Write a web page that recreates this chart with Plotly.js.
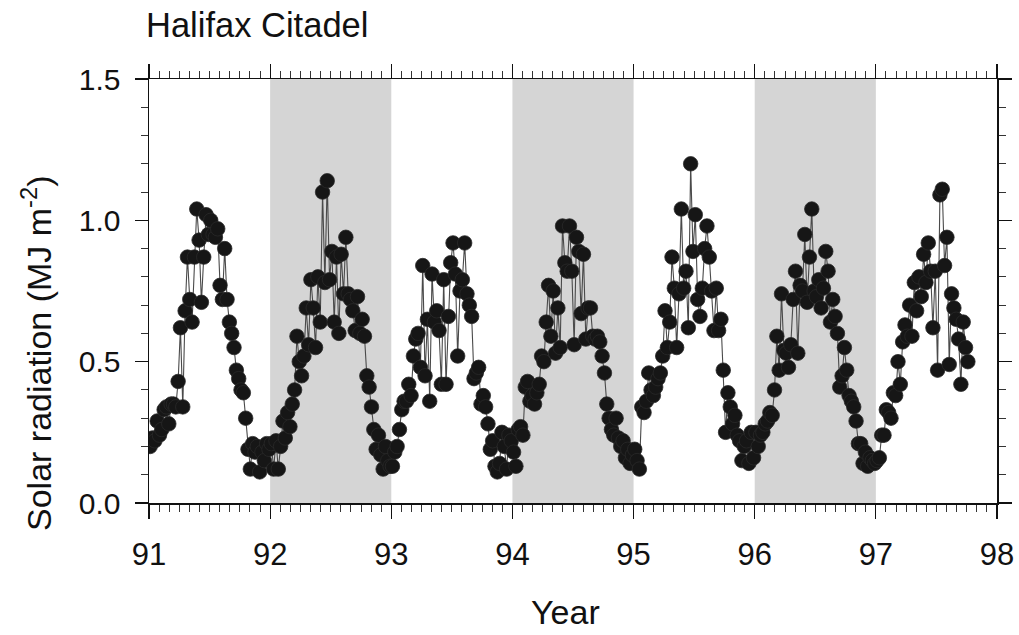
<!DOCTYPE html>
<html>
<head>
<meta charset="utf-8">
<script src="https://cdn.plot.ly/plotly-3.0.1.min.js"></script>
<style>html,body{margin:0;padding:0;background:#fff}#chart{width:1019px;height:635px}</style>
</head>
<body>
<div id="chart"></div>
<script>
// Weekly mean solar radiation (MJ m^-2), one array per year
const years = [91, 92, 93, 94, 95, 96, 97];
const weeksPerYear = 52;
const rad91 = [0.20,0.23,0.22,0.29,0.24,0.26,0.33,0.34,0.28,0.35,0.35,0.34,0.43,0.62,0.34,0.68,0.87,0.72,0.64,0.87,1.04,0.93,0.71,0.87,1.02,0.95,1.00,0.95,0.94,0.97,0.77,0.72,0.90,0.72,0.64,0.60,0.55,0.47,0.44,0.40,0.39,0.30,0.19,0.12,0.21,0.18,0.20,0.11,0.18,0.15,0.21,0.19];
const rad92 = [0.21,0.12,0.22,0.12,0.20,0.29,0.23,0.32,0.27,0.35,0.40,0.59,0.50,0.45,0.52,0.69,0.56,0.79,0.69,0.55,0.80,0.64,1.10,0.78,1.14,0.79,0.89,0.64,0.87,0.60,0.88,0.74,0.94,0.74,0.72,0.68,0.61,0.73,0.60,0.65,0.59,0.45,0.41,0.34,0.26,0.19,0.24,0.17,0.12,0.20,0.15,0.13];
const rad93 = [0.13,0.18,0.20,0.26,0.33,0.36,0.36,0.42,0.38,0.52,0.58,0.60,0.48,0.84,0.45,0.65,0.36,0.81,0.64,0.68,0.61,0.42,0.79,0.42,0.66,0.85,0.92,0.81,0.52,0.75,0.79,0.92,0.74,0.70,0.66,0.44,0.46,0.48,0.35,0.38,0.34,0.28,0.19,0.22,0.13,0.11,0.14,0.25,0.20,0.12,0.24,0.22];
const rad94 = [0.18,0.13,0.26,0.27,0.24,0.41,0.43,0.36,0.38,0.35,0.39,0.42,0.52,0.50,0.64,0.77,0.59,0.75,0.53,0.69,0.55,0.98,0.85,0.82,0.98,0.82,0.56,0.94,0.89,0.67,0.88,0.58,0.69,0.69,0.59,0.58,0.59,0.57,0.52,0.46,0.35,0.30,0.26,0.24,0.30,0.23,0.20,0.22,0.16,0.19,0.14,0.17];
const rad95 = [0.19,0.15,0.12,0.34,0.32,0.36,0.46,0.40,0.38,0.41,0.44,0.46,0.52,0.68,0.55,0.64,0.87,0.76,0.55,0.74,1.04,0.76,0.82,0.62,1.20,0.89,1.02,0.72,0.66,0.76,0.90,0.98,0.87,0.75,0.61,0.76,0.61,0.65,0.47,0.25,0.39,0.34,0.28,0.31,0.24,0.22,0.15,0.20,0.22,0.14,0.25,0.16];
const rad96 = [0.25,0.20,0.24,0.25,0.28,0.29,0.32,0.31,0.40,0.59,0.47,0.74,0.54,0.53,0.48,0.56,0.72,0.82,0.53,0.77,0.75,0.95,0.71,0.87,1.04,0.75,0.73,0.79,0.69,0.76,0.89,0.82,0.64,0.72,0.66,0.60,0.41,0.45,0.55,0.47,0.38,0.36,0.34,0.29,0.21,0.21,0.14,0.18,0.13,0.16,0.15,0.14];
const rad97 = [0.15,0.16,0.24,0.24,0.33,0.32,0.30,0.39,0.38,0.50,0.42,0.57,0.63,0.59,0.70,0.59,0.78,0.68,0.80,0.73,0.88,0.78,0.92,0.82,0.62,0.82,0.47,1.09,1.11,0.84,0.94,0.49,0.74,0.69,0.65,0.58,0.42,0.64,0.55,0.50];
const shadedYears = [92, 94, 96];
const xTickVals = [91, 92, 93, 94, 95, 96, 97, 98];
const yTickVals = [0.0, 0.5, 1.0, 1.5];

const series = [rad91, rad92, rad93, rad94, rad95, rad96, rad97];
const xs = [], ys = [];
series.forEach((arr, k) => {
  arr.forEach((v, i) => {
    xs.push(years[k] + (i + 0.5) / weeksPerYear);
    ys.push(v);
  });
});

const FONT = 'Liberation Sans, Arial, Helvetica, sans-serif';

const trace = {
  x: xs, y: ys, type: 'scatter', mode: 'lines+markers',
  line: {color: '#4a4a4a', width: 1.1},
  marker: {size: 14.5, color: '#161616', line: {width: 0.8, color: '#2a2a2a'}},
  hoverinfo: 'x+y', showlegend: false
};

const shapes = shadedYears.map(y0 => ({
  type: 'rect', xref: 'x', yref: 'paper', x0: y0, x1: y0 + 1, y0: 0, y1: 1,
  fillcolor: '#d5d5d5', line: {width: 0}, layer: 'below'
}));

const layout = {
  width: 1019, height: 635,
  margin: {l: 149, r: 22, t: 79, b: 132},
  paper_bgcolor: '#ffffff', plot_bgcolor: '#ffffff',
  font: {family: FONT, color: '#111', size: 30},
  title: {text: 'Halifax Citadel', x: 146/1019, xanchor: 'left', xref: 'container',
          y: 1 - 25/635, yanchor: 'middle', font: {family: FONT, size: 34.5, color: '#111'}},
  xaxis: {
    range: [91, 98], tickvals: xTickVals, ticktext: xTickVals.map(String),
    showgrid: false, zeroline: false, showline: true, linecolor: '#111', linewidth: 1.5,
    mirror: 'allticks', ticks: 'outside', ticklen: 14, tickwidth: 1.2, tickcolor: '#111',
    minor: {dtick: 1/12, tick0: 91, ticks: 'outside', ticklen: 7, tickwidth: 1, tickcolor: '#333', showgrid: false},
    tickfont: {family: FONT, size: 31, color: '#111'}, ticklabelstandoff: 9
  },
  yaxis: {
    range: [0, 1.5], tickvals: yTickVals, ticktext: yTickVals.map(v => v.toFixed(1)),
    showgrid: false, zeroline: false, showline: true, linecolor: '#111', linewidth: 1.5,
    mirror: 'allticks', ticks: 'outside', ticklen: 13, tickwidth: 1.2, tickcolor: '#111',
    minor: {dtick: 0.1, tick0: 0, ticks: 'outside', ticklen: 7, tickwidth: 1, tickcolor: '#333', showgrid: false},
    tickfont: {family: FONT, size: 30, color: '#111'}, ticklabelstandoff: 8
  },
  shapes: shapes,
  annotations: [
    {text: 'Solar radiation (MJ m<sup>-2</sup>)', xref: 'paper', yref: 'paper',
     x: (36-149)/848, y: (503-353)/424, textangle: -90, showarrow: false,
     xanchor: 'center', yanchor: 'middle', font: {family: FONT, size: 34, color: '#111'}},
    {text: 'Year', xref: 'paper', yref: 'paper', x: (565-149)/848, y: (503-612)/424,
     showarrow: false, xanchor: 'center', yanchor: 'middle', font: {family: FONT, size: 34, color: '#111'}}
  ]
};

Plotly.newPlot('chart', [trace], layout, {staticPlot: true, displayModeBar: false});
</script>
</body>
</html>
